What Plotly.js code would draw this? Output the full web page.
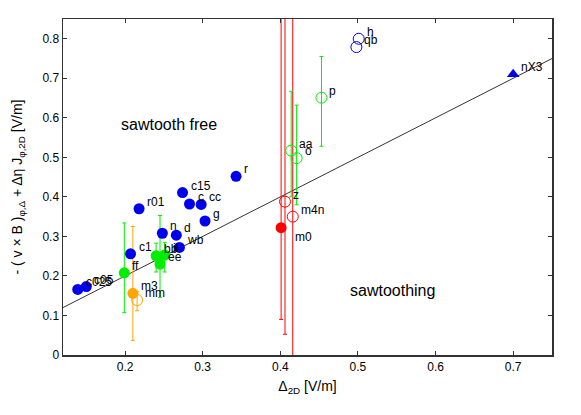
<!DOCTYPE html>
<html>
<head>
<meta charset="utf-8">
<script src="https://cdn.plot.ly/plotly-3.0.1.min.js"></script>
<style>html,body{margin:0;padding:0;background:#fff;}#chart{width:581px;height:415px;}</style>
</head>
<body>
<div id="chart"></div>
<script>
// ---- data ----
const blueNames = ["c025","c05","c1","r01","n","d","wb","c15","c","cc","g","r"];
const blueX = [0.139,0.150,0.207,0.218,0.248,0.266,0.270,0.274,0.283,0.298,0.303,0.343];
const blueY = [0.166,0.173,0.256,0.370,0.308,0.303,0.272,0.411,0.382,0.381,0.339,0.452];

const blueOpenNames = ["h","qb"];
const blueOpenX = [0.501,0.498];
const blueOpenY = [0.800,0.779];

const triNames = ["nX3"];
const triX = [0.700];
const triY = [0.710];

const greenNames = ["ff","bb","ii","ee"];
const greenX = [0.199,0.240,0.251,0.245];
const greenY = [0.208,0.251,0.253,0.230];
const greenHi = [0.334,0.283,0.285,0.353];
const greenLo = [0.107,0.210,0.210,0.146];

const greenOpenNames = ["aa","o","p"];
const greenOpenX = [0.414,0.421,0.453];
const greenOpenY = [0.517,0.498,0.651];
const greenOpenHi = [0.667,0.632,0.755];
const greenOpenLo = [0.400,0.380,0.528];

const orangeNames = ["m3"];
const orangeX = [0.210];
const orangeY = [0.156];
const orangeHi = [0.325];
const orangeLo = [0.037];

const orangeOpenNames = ["mm"];
const orangeOpenX = [0.2155];
const orangeOpenY = [0.139];
const orangeOpenHi = [0.160];
const orangeOpenLo = [0.112];

const redNames = ["m0"];
const redX = [0.401];
const redY = [0.322];
const redHi = [1.5];
const redLo = [0.090];

const redOpenNames = ["z","m4n"];
const redOpenX = [0.406,0.416];
const redOpenY = [0.388,0.350];
const redOpenHi = [1.5,1.5];
const redOpenLo = [0.0525,-0.2];

const lineX = [0.12,0.75];
const lineY = [0.12,0.75];

const xTicks = [0.2,0.3,0.4,0.5,0.6,0.7];
const yTicks = [0,0.1,0.2,0.3,0.4,0.5,0.6,0.7,0.8];

// ---- style ----
const FONT = "Liberation Sans, Arial, Helvetica, sans-serif";
const BLUE = "#0000ee", GREEN = "#00ee00", ORANGE = "#ffa500", RED = "#ff0000";

function err(hi, lo, y, color){
  return {type:'data', symmetric:false,
    array: hi.map((h,i)=>h-y[i]), arrayminus: lo.map((l,i)=>y[i]-l),
    color: color, thickness: 1, width: 2};
}
function filled(x,y,color,sym,size,e){
  const t = {x:x,y:y,type:'scatter',mode:'markers',
    marker:{color:color,size:size||11,symbol:sym||'circle',line:{width:0}}};
  if(e) t.error_y = e;
  return t;
}
function open(x,y,color,e){
  const t = {x:x,y:y,type:'scatter',mode:'markers',
    marker:{color:color,size:11,symbol:'circle-open',line:{width:1}}};
  if(e) t.error_y = e;
  return t;
}

const traces = [
  {x:lineX,y:lineY,type:'scatter',mode:'lines',line:{color:'#000',width:0.8}},
  filled(redX,redY,RED,'circle',11,err(redHi,redLo,redY,RED)),
  open(redOpenX,redOpenY,RED,err(redOpenHi,redOpenLo,redOpenY,RED)),
  open(greenOpenX,greenOpenY,GREEN,err(greenOpenHi,greenOpenLo,greenOpenY,GREEN)),
  filled(greenX,greenY,GREEN,'circle',11,err(greenHi,greenLo,greenY,GREEN)),
  filled(orangeX,orangeY,ORANGE,'circle',11,err(orangeHi,orangeLo,orangeY,ORANGE)),
  open(orangeOpenX,orangeOpenY,ORANGE,err(orangeOpenHi,orangeOpenLo,orangeOpenY,ORANGE)),
  filled(blueX,blueY,BLUE,'circle',11),
  open(blueOpenX,blueOpenY,BLUE),
  filled(triX,triY,BLUE,'triangle-up',11)
];

const labelShift = {"m0":[12,-9]};
const annotations = [];
function addLabels(names,xs,ys){
  names.forEach((n,i)=>{
    const s = labelShift[n] || [6,7];
    annotations.push({x:xs[i],y:ys[i],xref:'x',yref:'y',text:n,showarrow:false,
      xanchor:'left',yanchor:'middle',xshift:s[0],yshift:s[1],
      font:{family:FONT,size:12,color:'#000'}});
  });
}
addLabels(blueNames,blueX,blueY);
addLabels(blueOpenNames,blueOpenX,blueOpenY);
addLabels(triNames,triX,triY);
addLabels(greenNames,greenX,greenY);
addLabels(greenOpenNames,greenOpenX,greenOpenY);
addLabels(orangeNames,orangeX,orangeY);
addLabels(orangeOpenNames,orangeOpenX,orangeOpenY);
addLabels(redNames,redX,redY);
addLabels(redOpenNames,redOpenX,redOpenY);

annotations.push({x:0.257,y:0.583,xref:'x',yref:'y',text:'sawtooth free',showarrow:false,
  xanchor:'center',yanchor:'middle',font:{family:FONT,size:16,color:'#000'}});
annotations.push({x:0.545,y:0.162,xref:'x',yref:'y',text:'sawtoothing',showarrow:false,
  xanchor:'center',yanchor:'middle',font:{family:FONT,size:16,color:'#000'}});

const axisCommon = {showgrid:false,zeroline:false,showline:true,linecolor:'#333',linewidth:1.5,
  mirror:'allticks',ticks:'inside',ticklen:4,tickcolor:'#333',tickwidth:1,
  tickfont:{family:FONT,size:12,color:'#000'},automargin:false};

const layout = {
  width:581,height:415,
  margin:{l:63,r:29,t:19,b:60},
  paper_bgcolor:'#fff',plot_bgcolor:'#fff',
  showlegend:false,
  font:{family:FONT,size:12,color:'#000'},
  xaxis:Object.assign({},axisCommon,{range:[0.12,0.75],tickvals:xTicks,ticktext:xTicks.map(String),
    title:{text:'Δ<sub>2D</sub> [V/m]',font:{family:FONT,size:14,color:'#000'},standoff:8}}),
  yaxis:Object.assign({},axisCommon,{range:[0,0.85],tickvals:yTicks,ticktext:yTicks.map(String),
    title:{text:'- ( v × B )<sub>φ,Δ</sub> + Δη J<sub>φ,2D</sub> [V/m]',font:{family:FONT,size:14,color:'#000'},standoff:16}}),
  annotations:annotations
};

Plotly.newPlot('chart',traces,layout,{staticPlot:true,displayModeBar:false});
</script>
</body>
</html>
